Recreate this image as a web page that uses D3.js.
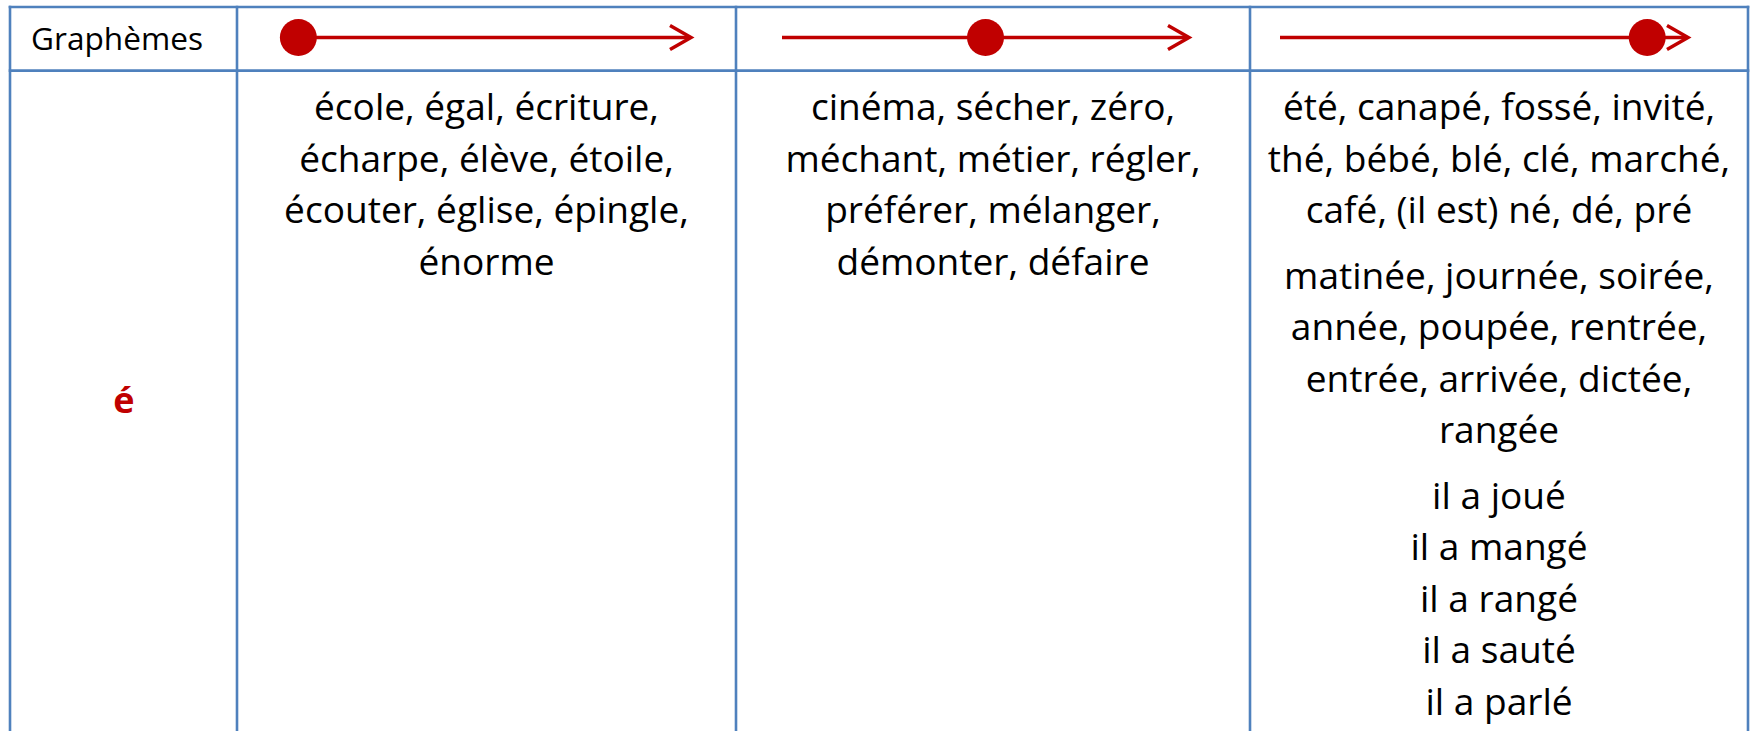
<!DOCTYPE html>
<html>
<head>
<meta charset="utf-8">
<script src="https://cdn.jsdelivr.net/npm/d3@7"></script>
<style>
  html, body { margin: 0; padding: 0; background: #ffffff; }
  svg { display: block; }
</style>
</head>
<body>
<div id="chart"></div>
<script>
// ---------------- data ----------------
const headerTitle = "Graphèmes";
const graphemes = ["é"];
const positionNames = ["début", "milieu", "fin"];
const dotPositions = [0.04, 0.5, 0.9];   // position of the dot along each arrow (0 = start, 1 = end)

const wordsStart = [
  ["école, égal, écriture,", "écharpe, élève, étoile,", "écouter, église, épingle,", "énorme"]
];
const wordsMiddle = [
  ["cinéma, sécher, zéro,", "méchant, métier, régler,", "préférer, mélanger,", "démonter, défaire"]
];
const wordsEnd = [
  ["été, canapé, fossé, invité,", "thé, bébé, blé, clé, marché,", "café, (il est) né, dé, pré"],
  ["matinée, journée, soirée,", "année, poupée, rentrée,", "entrée, arrivée, dictée,", "rangée"],
  ["il a joué", "il a mangé", "il a rangé", "il a sauté", "il a parlé"]
];
const cellWords = [wordsStart, wordsMiddle, wordsEnd];

// ---------------- layout ----------------
const W = 1754, H = 731;
const colEdges = [10, 237, 736, 1250, 1748];
const rowEdges = [7, 70.7, 760];
const arrowSpans = [[282, 691], [782, 1189], [1280, 1688]];
const arrowY = 37.5;
const red = "#C00000";
const blue = "#4F81BD";
const fontFam = "'Open Sans', 'Noto Sans', sans-serif";

const svg = d3.select("#chart").append("svg")
  .attr("width", W).attr("height", H);
svg.append("rect").attr("width", W).attr("height", H).attr("fill", "#fff");

// fit font sizes by measuring text width
const ctx = document.createElement("canvas").getContext("2d");
function fitSize(text, target, weight) {
  ctx.font = (weight || "normal") + " 100px " + fontFam;
  return 100 * target / ctx.measureText(text).width;
}
const bodySize = fitSize(wordsStart[0][0], 345);
const headSize = fitSize(headerTitle, 172);

// --- header row
svg.append("text")
  .attr("x", 117).attr("y", 49.5)
  .attr("text-anchor", "middle")
  .attr("font-family", fontFam).attr("font-size", headSize)
  .attr("fill", "#000").text(headerTitle);

positionNames.forEach((name, i) => {
  const xs = d3.scaleLinear().domain([0, 1]).range(arrowSpans[i]);
  const g = svg.append("g").attr("class", "arrow " + name);
  g.append("line")
    .attr("x1", xs(0)).attr("x2", xs(1) - 1)
    .attr("y1", arrowY).attr("y2", arrowY)
    .attr("stroke", red).attr("stroke-width", 3.5);
  g.append("path")
    .attr("d", `M${xs(1) - 21},${arrowY - 12} L${xs(1)},${arrowY} L${xs(1) - 21},${arrowY + 12}`)
    .attr("fill", "none").attr("stroke", red).attr("stroke-width", 3.5)
    .attr("stroke-linejoin", "miter");
  g.append("circle")
    .attr("cx", xs(dotPositions[i])).attr("cy", arrowY).attr("r", 18.5)
    .attr("fill", red);
});

// --- body row
svg.append("text")
  .attr("x", 124).attr("y", 413)
  .attr("text-anchor", "middle")
  .attr("font-family", fontFam).attr("font-size", 36).attr("font-weight", "bold")
  .attr("fill", red).text(graphemes[0]);

const firstBaseline = 120, lineStep = 51.5, paraGap = 14;
cellWords.forEach((paras, ci) => {
  const cx = (colEdges[ci + 1] + colEdges[ci + 2]) / 2;
  let y = firstBaseline;
  const lines = [];
  paras.forEach((p, pi) => {
    if (pi > 0) y += paraGap;
    p.forEach(line => { lines.push({ text: line, y: y }); y += lineStep; });
  });
  svg.append("g").selectAll("text").data(lines).join("text")
    .attr("x", cx).attr("y", d => d.y)
    .attr("text-anchor", "middle")
    .attr("font-family", fontFam).attr("font-size", bodySize)
    .attr("fill", "#000").text(d => d.text);
});

// --- table grid
const grid = svg.append("g").attr("fill", "none").attr("stroke", blue);
colEdges.forEach(x => {
  grid.append("line").attr("x1", x).attr("x2", x)
    .attr("y1", rowEdges[0] - 1.2).attr("y2", rowEdges[2])
    .attr("stroke-width", 2.6);
});
rowEdges.slice(0, 2).forEach((y, i) => {
  grid.append("line").attr("x1", colEdges[0] - 1.3).attr("x2", colEdges[colEdges.length - 1] + 1.3)
    .attr("y1", y).attr("y2", y)
    .attr("stroke-width", i === 0 ? 2.4 : 2.8);
});
</script>
</body>
</html>
